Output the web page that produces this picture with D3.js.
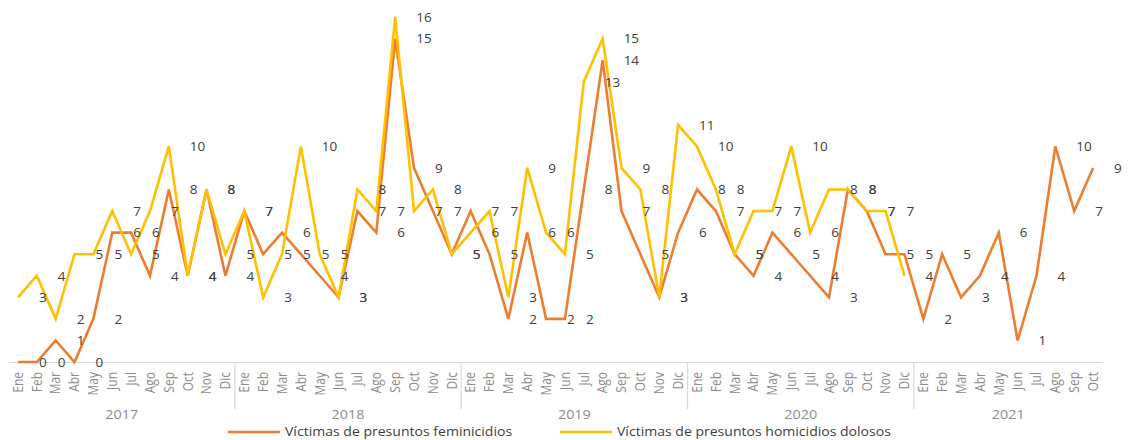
<!DOCTYPE html>
<html>
<head>
<meta charset="utf-8">
<script src="https://cdn.jsdelivr.net/npm/d3@7"></script>
<style>
  html, body { margin: 0; padding: 0; background: #ffffff; }
  svg { display: block; font-family: "Open Sans", "Noto Sans", sans-serif; }
</style>
</head>
<body>
<svg id="chart" width="1129" height="440"></svg>
<script>
const years = ["2017", "2018", "2019", "2020", "2021"];
const months = ["Ene", "Feb", "Mar", "Abr", "May", "Jun", "Jul", "Ago", "Sep", "Oct", "Nov", "Dic"];

const feminicidios = [
  0, 0, 1, 0, 2, 6, 6, 4, 8, 4, 8, 4,
  7, 5, 6, 5, 4, 3, 7, 6, 15, 9, 7, 5,
  7, 5, 2, 6, 2, 2, 8, 14, 7, 5, 3, 6,
  8, 7, 5, 4, 6, 5, 4, 3, 8, 7, 5, 5,
  2, 5, 3, 4, 6, 1, 4, 10, 7, 9
];
const homicidios = [
  3, 4, 2, 5, 5, 7, 5, 7, 10, 4, 8, 5,
  7, 3, 5, 10, 5, 3, 8, 7, 16, 7, 8, 5,
  6, 7, 3, 9, 6, 5, 13, 15, 9, 8, 3, 11,
  10, 8, 5, 7, 7, 10, 6, 8, 8, 7, 7, 4
];
const seriesNames = ["Víctimas de presuntos feminicidios", "Víctimas de presuntos homicidios dolosos"];
const seriesColors = ["#ED7D31", "#FFC000"];

const categories = years.flatMap(yr => months.map(m => ({ key: yr + "-" + m, year: yr, month: m })))
  .slice(0, feminicidios.length);

const svg = d3.select("#chart");
const x = d3.scaleBand().domain(categories.map(c => c.key)).range([8.5, 1102.5]).padding(0);
const y = d3.scaleLinear().domain([0, 16]).range([362, 17]);
const cx = k => x(k) + x.bandwidth() / 2;

// baseline axis
const axis = svg.append("g").attr("transform", "translate(0,362)")
  .call(d3.axisBottom(x).tickSize(0).tickFormat(k => k.split("-")[1]));
axis.select(".domain").attr("stroke", "#d9d9d9").attr("stroke-width", 1.2);
axis.selectAll(".tick text")
  .attr("x", 0).attr("y", 0).attr("dy", "0.35em")
  .attr("text-anchor", "end")
  .attr("transform", "translate(0,10) scale(1.15,1) rotate(-90)")
  .attr("fill", "#8c8c8c")
  .style("font-size", "12px")
  .style("font-family", "'Open Sans', sans-serif");

// year separators and labels
years.forEach((yr, i) => {
  const cats = categories.filter(c => c.year === yr);
  if (!cats.length) return;
  const x0 = x(cats[0].key);
  const x1 = x(cats[cats.length - 1].key) + x.bandwidth();
  if (i > 0) {
    svg.append("line").attr("x1", x0).attr("x2", x0).attr("y1", 362).attr("y2", 409)
      .attr("stroke", "#d9d9d9").attr("stroke-width", 1.2);
  }
  svg.append("text")
    .attr("transform", `translate(${(x0 + x1) / 2},418.5) scale(1.15,1)`)
    .attr("text-anchor", "middle")
    .attr("fill", "#8c8c8c")
    .style("font-size", "12.5px")
    .text(yr);
});

const line = d3.line().x(d => cx(d.key)).y(d => y(d.v));
const fData = feminicidios.map((v, i) => ({ key: categories[i].key, v }));
const hData = homicidios.map((v, i) => ({ key: categories[i].key, v }));

svg.append("path").datum(fData).attr("d", line)
  .attr("fill", "none").attr("stroke", seriesColors[0]).attr("stroke-width", 2.6)
  .attr("stroke-linejoin", "miter");
svg.append("path").datum(hData).attr("d", line)
  .attr("fill", "none").attr("stroke", seriesColors[1]).attr("stroke-width", 2.6)
  .attr("stroke-linejoin", "miter");

// data labels
[fData, hData].forEach(data => {
  svg.append("g").selectAll("text").data(data).join("text")
    .attr("x", d => cx(d.key) + 21)
    .attr("y", d => y(d.v))
    .attr("dy", "0.36em")
    .attr("fill", "#404040")
    .style("font-size", "13.5px")
    .text(d => d.v);
});

// legend
const legendItems = [
  { name: seriesNames[0], color: seriesColors[0], x: 228 },
  { name: seriesNames[1], color: seriesColors[1], x: 560 }
];
legendItems.forEach(it => {
  svg.append("line").attr("x1", it.x).attr("x2", it.x + 52).attr("y1", 432).attr("y2", 432)
    .attr("stroke", it.color).attr("stroke-width", 2.6);
  svg.append("text")
    .attr("transform", `translate(${it.x + 57},436) scale(1.04,1)`)
    .attr("fill", "#404040").style("font-size", "13.5px").text(it.name);
});
</script>
</body>
</html>
